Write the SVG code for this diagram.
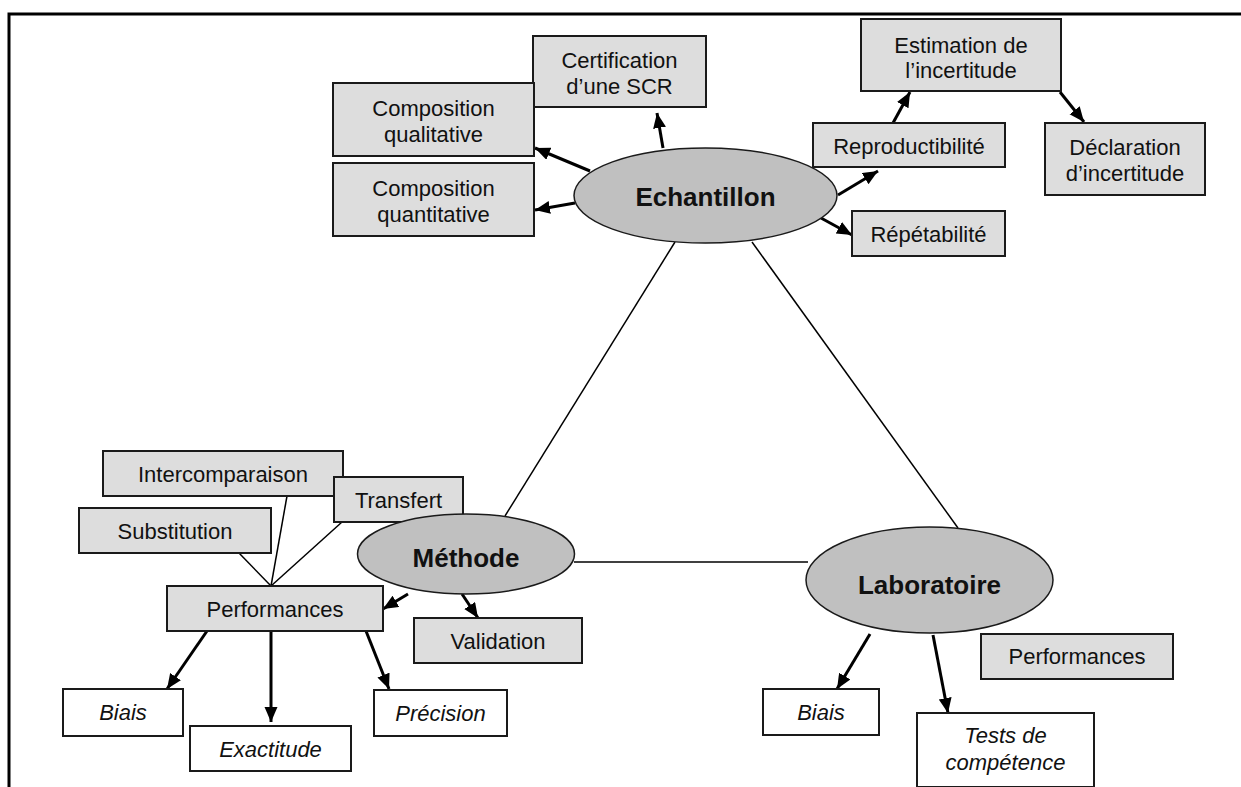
<svg xmlns="http://www.w3.org/2000/svg" width="1241" height="787" viewBox="0 0 1241 787">
  <defs>
    <marker id="arrow" markerUnits="userSpaceOnUse" markerWidth="16" markerHeight="14" refX="15" refY="6.5" orient="auto">
      <path d="M0,0 L15,6.5 L0,13 z" fill="#000"/>
    </marker>
  </defs>
  <style>
    .box{fill:#dddddd;stroke:#1a1a1a;stroke-width:2}
    .wbox{fill:#ffffff;stroke:#1a1a1a;stroke-width:2}
    .ell{fill:#c0c0c0;stroke:#1a1a1a;stroke-width:1.5}
    text{font-family:"Liberation Sans",Arial,sans-serif;font-size:22px;fill:#111;text-anchor:middle}
    .it{font-style:italic}
    .big{font-size:26px;font-weight:bold}
    .link{stroke:#000;stroke-width:1.5;fill:none}
    .arr{stroke:#000;stroke-width:3;fill:none;marker-end:url(#arrow)}
  </style>

  <rect width="1241" height="787" fill="#ffffff"/>
  <!-- page frame -->
  <path d="M9,787 V14 H1241" fill="none" stroke="#000" stroke-width="3"/>

  <!-- connectors -->
  <g id="connectors">
    <!-- triangle between the three poles -->
    <line class="link" x1="675" y1="242" x2="505" y2="516"/>
    <line class="link" x1="752" y1="242" x2="958" y2="528"/>
    <line class="link" x1="574" y1="562" x2="808" y2="562"/>
    <!-- Echantillon -->
    <line class="arr" x1="663" y1="148" x2="657" y2="113"/>
    <line class="arr" x1="590" y1="171" x2="535" y2="148"/>
    <line class="arr" x1="575" y1="203" x2="535" y2="210"/>
    <line class="arr" x1="838" y1="195" x2="878" y2="171"/>
    <line class="arr" x1="821" y1="218" x2="852" y2="235"/>
    <line class="arr" x1="893" y1="123" x2="910" y2="92"/>
    <line class="arr" x1="1060" y1="92" x2="1084" y2="122"/>
    <!-- Methode -->
    <line class="link" x1="239" y1="553" x2="271" y2="586"/>
    <line class="link" x1="287" y1="496" x2="271" y2="586"/>
    <line class="link" x1="342" y1="522" x2="271" y2="586"/>
    <line class="arr" x1="408" y1="594" x2="383" y2="609"/>
    <line class="arr" x1="462" y1="594" x2="478" y2="618"/>
    <line class="arr" x1="207" y1="631" x2="167" y2="689"/>
    <line class="arr" x1="271" y1="631" x2="271" y2="722"/>
    <line class="arr" x1="366" y1="631" x2="389" y2="689"/>
    <!-- Laboratoire -->
    <line class="arr" x1="870" y1="634" x2="837" y2="689"/>
    <line class="arr" x1="933" y1="635" x2="948" y2="713"/>
  </g>

  <!-- Echantillon pole -->
  <g id="certification"><rect class="box" x="533" y="36" width="173" height="71"/><text x="619.5" y="68">Certification</text><text x="619.5" y="94">d’une SCR</text></g>
  <g id="composition-qualitative"><rect class="box" x="333" y="83" width="201" height="73"/><text x="433.5" y="116">Composition</text><text x="433.5" y="142">qualitative</text></g>
  <g id="composition-quantitative"><rect class="box" x="333" y="163" width="201" height="73"/><text x="433.5" y="196">Composition</text><text x="433.5" y="222">quantitative</text></g>
  <g id="estimation"><rect class="box" x="861" y="19" width="200" height="72"/><text x="961" y="53">Estimation de</text><text x="961" y="78">l’incertitude</text></g>
  <g id="reproductibilite"><rect class="box" x="813" y="123" width="192" height="44"/><text x="909" y="154">Reproductibilité</text></g>
  <g id="declaration"><rect class="box" x="1045" y="123" width="160" height="72"/><text x="1125" y="155">Déclaration</text><text x="1125" y="181">d’incertitude</text></g>
  <g id="repetabilite"><rect class="box" x="852" y="211" width="153" height="45"/><text x="928.5" y="242">Répétabilité</text></g>
  <g id="echantillon"><ellipse class="ell" cx="705.5" cy="195.5" rx="131.5" ry="47.5"/><text class="big" x="705.5" y="206">Echantillon</text></g>

  <!-- Methode pole -->
  <g id="intercomparaison"><rect class="box" x="103" y="451" width="240" height="45"/><text x="223" y="482">Intercomparaison</text></g>
  <g id="transfert"><rect class="box" x="334" y="477" width="129" height="45"/><text x="398.5" y="508">Transfert</text></g>
  <g id="substitution"><rect class="box" x="79" y="508" width="192" height="45"/><text x="175" y="539">Substitution</text></g>
  <g id="methode"><ellipse class="ell" cx="466" cy="554" rx="108.5" ry="40"/><text class="big" x="466" y="567">Méthode</text></g>
  <g id="performances-methode"><rect class="box" x="167" y="586" width="216" height="45"/><text x="275" y="617">Performances</text></g>
  <g id="validation"><rect class="box" x="414" y="618" width="168" height="45"/><text x="498" y="649">Validation</text></g>
  <g id="biais-methode"><rect class="wbox" x="63" y="689" width="120" height="47"/><text class="it" x="123" y="720">Biais</text></g>
  <g id="exactitude"><rect class="wbox" x="190" y="726" width="161" height="45"/><text class="it" x="270.5" y="757">Exactitude</text></g>
  <g id="precision"><rect class="wbox" x="374" y="690" width="133" height="46"/><text class="it" x="440.5" y="721">Précision</text></g>

  <!-- Laboratoire pole -->
  <g id="laboratoire"><ellipse class="ell" cx="929.5" cy="580" rx="123.5" ry="53"/><text class="big" x="929.5" y="594">Laboratoire</text></g>
  <g id="performances-laboratoire"><rect class="box" x="981" y="634" width="192" height="45"/><text x="1077" y="664">Performances</text></g>
  <g id="biais-laboratoire"><rect class="wbox" x="763" y="689" width="116" height="46"/><text class="it" x="821" y="720">Biais</text></g>
  <g id="tests-competence"><rect class="wbox" x="917" y="713" width="177" height="74"/><text class="it" x="1005.5" y="743">Tests de</text><text class="it" x="1005.5" y="770">compétence</text></g>
</svg>
